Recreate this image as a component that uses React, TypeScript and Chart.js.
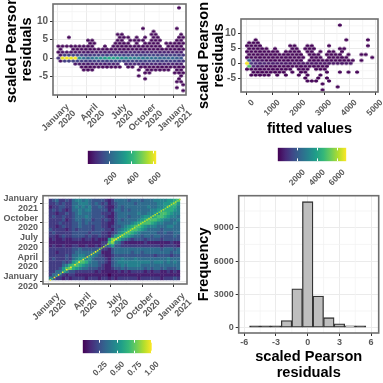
import React, { useEffect, useRef } from "react";
import { Chart, registerables } from "chart.js";
Chart.register(...registerables);

const FONT = "'Liberation Sans', Arial, sans-serif";
const TICK = "#5a5a5a";
const VIRIDIS = ["#440154","#482878","#3E4A89","#31688E","#26828E","#1F9E89","#35B779","#6DCD59","#B4DE2C","#FDE725"];

// ---------- shared date axis
const dateTicks = [0, 91, 182, 274, 366];
const dateLabels = [["January","2020"],["April","2020"],["July","2020"],["October","2020"],["January","2021"]];
const dateMinor = [45.5, 136.5, 228, 320];

// ---------- panel 1: hexbin over time (columns of bins, rows indexed by k)
const h1Tops =    [4,4,4,4,4,4,4,6,6,4,4,4,4,5,8,8,7,6,7,6,7,5,9,8,6,5,5,5,7,8];
const h1Bottoms = [-1,-1,-1,-1,-2,-3,-4,-4,-4,-3,-3,-3,-3,-3,-3,-2,-3,-3,-3,-6,-7,-5,-4,-4,-4,-4,-4,-5,-8,-8];
const h1Extra = [[2,7],[20,10],[28,10],[28,17],[28,-10],[29,-11],[29,-9]];
const h1Holes = [[1,3],[2,3],[9,4],[10,4],[12,4],[16,6],[17,5],[19,5],[19,-5],[20,-6],[20,-4],[27,-4],[28,-6],[29,-7],[18,-3],[15,-2],[24,5],[25,4]];
const h1Center = [90,600,610,600,610,300,220,200,230,260,300,340,360,350,330,300,280,270,260,250,240,230,220,210,200,200,190,200,180,160];
const h1Near = [30,110,120,120,120,110,100,100,110,110,120,120,130,130,130,120,120,120,120,120,120,120,120,110,110,110,110,110,100,90];
const h1Second = [8,25,30,30,35,35,35,40,40,40,45,45,50,50,55,55,55,60,60,60,60,60,60,55,55,55,50,50,50,45];

// ---------- panel 2: hexbin against fitted values, [row, columns]
const h2Rows: [number, number[]][] = [
  [13,[21]],
  [8,[2,23,28]],
  [7,[0,1,2]],
  [6,[0,1,2,3,10,11,14,15,19,28]],
  [5,[0,1,2,3,4,6,10,11,13,14,15,21,22]],
  [4,[0,1,2,3,4,5,6,7,9,10,11,12,14,15,17,19,20,22]],
  [3,[0,1,2,3,4,5,6,7,8,9,10,11,12,14,15,16,18,19,20,21,23,26,27]],
  [2,[0,1,2,3,4,5,6,7,8,9,10,11,12,13,15,16,17,19,20,21,22,23,29]],
  [1,[0,1,2,3,4,5,6,7,8,9,10,11,12,14,15,16,17,18,19,20,21,22,23,24,26]],
  [0,[0,1,2,3,4,5,6,7,8,9,10,11,12,13,14,15,16,17,18,19,20,21,22,23,24]],
  [-1,[0,1,2,3,4,5,6,7,8,9,10,11,12,13,14,15,16,17,18]],
  [-2,[0,1,2,3,4,5,6,7,8,9,10,12,13,14,16,17,18]],
  [-3,[1,2,3,4,5,6,7,8,10,12,13,18,21,23,25]],
  [-4,[1,2,3,4,5,7,9,12,14,17]],
  [-5,[13,16,18]],
  [-6,[14,15,16,19]],
  [-7,[17]],
  [-8,[21]],
  [-9,[17]],
];
const h2Special: [number, number, number][] = [[0,0,6800],[0,-1,5000],[0,1,2000],[1,0,1000],[2,0,700],[3,0,600],[4,0,600],[5,0,500],[6,0,500],[7,0,450],[8,0,400],[9,0,400],[1,1,500],[1,-1,600],[2,1,350],[2,-1,350],[3,1,300],[3,-1,300]];

// ---------- panel 3: correlation heat map, tenths, top row first
const heatRows = [
"2342232 455454 33332 12 44443444344 455556678",
"2232322 445554 34323 12 34444434444 445566786",
"1223322 454545 33432 11 34344444445 445567775",
"2323212 445455 33333 12 44343444444 556677765",
"2212232 345444 33322 21 34444445445 566887655",
"2322322 344454 33332 11 34443444566 678876554",
"2222312 344344 23323 21 34344445678 887655445",
"2223222 334343 33322 11 34444567888 765544454",
"2212322 334333 23322 12 33456788765 554445544",
"3222212 323333 23332 21 34567887654 444344444",
"2322222 333332 33322 12 35678765444 443343344",
"2212322 333323 22322 13 67876544344 344333343",
"1211211 222122 12111 69 87543233323 333233333",
"1111111 111111 11122 89 54211111121 111111211",
"1211211 221121 12123 46 33222222222 222122221",
"2222222 334333 33422 13 44444444444 444344434",
"2212222 344444 45411 13 44444344344 444444344",
"2222232 445544 54321 12 33333333333 323333233",
"2322232 456656 43332 13 44544454444 444445444",
"2222323 678875 44332 13 45555555555 455545454",
"2222457 887654 44321 13 44545555444 444444444",
"2223689 765443 33221 12 33434444434 344343334",
"2244653 322222 21211 11 12121222212 122112121",
"2443212 211111 11111 01 11111111111 111111111",
"5322121 222212 22122 12 12222221222 222122232",
];
const diagValues = [10,7,10,7,10,7,10,7,10,8,10,7,10,8,10,8,10,8,10,8,10,9,10,9,9,8,9,8,9,7,9,10,10,10,10,9,9,9,9,9,9,9,8,9,9,9,9,9,9,9,9,9,9,8,9,9,8,9,9,9,9,9,8,9];

// ---------- panel 4: histogram
const histBins = [-5,-4,-3,-2,-1,0,1,2,3,4,5];
const histCounts = [30,40,80,650,3500,11340,2850,900,350,150,60];

// ---------- colour bars
const bar1Ticks = [200,400,600];
const bar2Ticks = [2000,4000,6000];
const bar3Ticks = [0.25,0.5,0.75,1];
const bar3Labels = ["0.25","0.50","0.75","1.00"];

function viridis(t: number) {
  const u = Math.max(0, Math.min(1, t)) * (VIRIDIS.length - 1);
  const i = Math.min(VIRIDIS.length - 2, Math.floor(u));
  const f = u - i;
  const p = (s: string, k: number) => parseInt(s.slice(1 + 2 * k, 3 + 2 * k), 16);
  const m = [0, 1, 2].map((k) => Math.round(p(VIRIDIS[i], k) * (1 - f) + p(VIRIDIS[i + 1], k) * f));
  return `rgb(${m[0]},${m[1]},${m[2]})`;
}

const sprites = new Map<string, HTMLCanvasElement>();
function hexSprite(color: string, hw: number, hh: number) {
  const key = color + hw + hh;
  if (sprites.has(key)) return sprites.get(key)!;
  const c = document.createElement("canvas");
  c.width = Math.ceil(hw * 2) + 2;
  c.height = Math.ceil(hh * 2) + 2;
  const g = c.getContext("2d")!;
  const x = c.width / 2, y = c.height / 2;
  g.fillStyle = color;
  g.beginPath();
  g.moveTo(x, y - hh); g.lineTo(x + hw, y - hh / 2); g.lineTo(x + hw, y + hh / 2);
  g.lineTo(x, y + hh); g.lineTo(x - hw, y + hh / 2); g.lineTo(x - hw, y - hh / 2);
  g.closePath(); g.fill();
  sprites.set(key, c);
  return c;
}

type Area = { left: number; top: number; right: number; bottom: number };
const S = 383;

const framePlugin = (minorX: number[], minorY: number[]) => ({
  id: "frame",
  beforeDatasetsDraw(ch: any) {
    const a = ch.chartArea, g = ch.ctx;
    g.save(); g.strokeStyle = "#F3F3F3"; g.lineWidth = 0.8; g.beginPath();
    minorX.forEach((v) => { const p = ch.scales.x.getPixelForValue(v); g.moveTo(p, a.top); g.lineTo(p, a.bottom); });
    minorY.forEach((v) => { const p = ch.scales.y.getPixelForValue(v); g.moveTo(a.left, p); g.lineTo(a.right, p); });
    g.stroke(); g.restore();
  },
  afterDraw(ch: any) {
    const a = ch.chartArea, g = ch.ctx;
    g.save(); g.strokeStyle = "#6e6e6e"; g.lineWidth = 1.6;
    g.strokeRect(a.left, a.top, a.right - a.left, a.bottom - a.top); g.restore();
  },
});

function fixedAxis(size: number, horizontal: boolean) {
  return (s: any) => {
    if (horizontal) s.height = size; else s.width = size;
    s.paddingLeft = 0; s.paddingRight = 0; s.paddingTop = 0; s.paddingBottom = 0;
  };
}

function baseScale(opts: any) {
  const { min, max, ticks, labels, horizontal, size, tickSize, rotate, title, titlePad, pad, labelOffset } = opts;
  return {
    type: "linear", min, max, offset: false,
    afterBuildTicks: (s: any) => { s.ticks = ticks.map((value: number) => ({ value })); },
    afterFit: fixedAxis(size, horizontal),
    grid: { color: "#EBEBEB", lineWidth: 1, tickColor: "#333333", tickLength: 3, offset: false },
    border: { display: false },
    ticks: {
      autoSkip: false, color: TICK, padding: pad ?? 2, labelOffset: labelOffset ?? 0,
      font: { family: FONT, size: tickSize ?? 9, weight: "bold", lineHeight: 1.05 },
      minRotation: rotate ? 45 : 0, maxRotation: rotate ? 45 : 0,
      callback: (_: any, i: number) => (labels ? labels[i] : String(ticks[i])),
    },
    title: title
      ? { display: true, text: title, color: "#000", padding: { top: titlePad ?? 4, bottom: titlePad ?? 0 },
          font: { family: FONT, size: 14.6, weight: "bold", lineHeight: 1.03 } }
      : { display: false },
  };
}

function panelOptions(area: Area, boxLeft: number, boxBottom: number, x: any, y: any) {
  return {
    responsive: false, animation: false as const, events: [] as any[], devicePixelRatio: 1,
    layout: { padding: { left: boxLeft, top: area.top, right: S - area.right, bottom: S - boxBottom } },
    plugins: { legend: { display: false }, tooltip: { enabled: false }, title: { display: false } },
    scales: {
      x: baseScale({ ...x, horizontal: true, size: boxBottom - area.bottom }),
      y: baseScale({ ...y, horizontal: false, size: area.left - boxLeft }),
    },
  };
}

function colorBar(canvas: HTMLCanvasElement, area: Area, min: number, max: number, ticks: number[], labels: string[]) {
  return new Chart(canvas, {
    type: "bar",
    data: {
      labels: [""],
      datasets: [{
        data: [[min, max]],
        barPercentage: 1, categoryPercentage: 1, borderWidth: 0,
        backgroundColor: (c: any) => {
          const a = c.chart.chartArea;
          if (!a) return VIRIDIS[0];
          const g = c.chart.ctx.createLinearGradient(a.left, 0, a.right, 0);
          VIRIDIS.forEach((col, i) => g.addColorStop(i / (VIRIDIS.length - 1), col));
          return g;
        },
      }],
    },
    options: {
      indexAxis: "y", responsive: false, animation: false, events: [], devicePixelRatio: 1,
      layout: { padding: { left: area.left, top: area.top, right: S - area.right, bottom: 0 } },
      plugins: { legend: { display: false }, tooltip: { enabled: false } },
      scales: {
        y: { display: false },
        x: {
          type: "linear", min, max,
          afterBuildTicks: (s: any) => { s.ticks = ticks.map((value) => ({ value })); },
          afterFit: fixedAxis(S - area.bottom, true),
          grid: { z: 1, color: "#ffffff", lineWidth: 1, drawTicks: false },
          border: { display: false, dash: [2.7, 8, 2.7, 0] },
          ticks: {
            autoSkip: false, color: TICK, padding: 6, labelOffset: 6,
            font: { family: FONT, size: 8.5, weight: "bold" },
            minRotation: 45, maxRotation: 45,
            callback: (_: any, i: number) => labels[i],
          },
        },
      },
    } as any,
  } as any);
}

function hexDataset(points: any[], hw: number, hh: number) {
  return {
    data: points, showLine: false, pointRadius: 2, pointBorderWidth: 0,
    pointStyle: (c: any) => hexSprite(c.raw ? c.raw.c : VIRIDIS[0], hw, hh),
  };
}

export default function App() {
  const refs = [useRef<HTMLCanvasElement>(null), useRef<HTMLCanvasElement>(null), useRef<HTMLCanvasElement>(null), useRef<HTMLCanvasElement>(null),
    useRef<HTMLCanvasElement>(null), useRef<HTMLCanvasElement>(null), useRef<HTMLCanvasElement>(null)];

  useEffect(() => {
    const charts: Chart[] = [];

    // panel 1
    const h1Points: any[] = [];
    h1Tops.forEach((top, c) => {
      for (let k = h1Bottoms[c]; k <= top; k++) {
        if (h1Holes.some((h) => h[0] === c && h[1] === k)) continue;
        const n = k === 0 ? h1Center[c] : Math.abs(k) === 1 ? h1Near[c] : Math.abs(k) === 2 ? h1Second[c] : 10;
        h1Points.push({ x: 2 + c * 13.35 + (k % 2 ? 6.67 : 0), y: k * 0.8, c: viridis(n / 620) });
      }
    });
    h1Extra.forEach(([c, k]) => h1Points.push({ x: 2 + c * 13.35 + (k % 2 ? 6.67 : 0), y: k * 0.8, c: viridis(0.01) }));
    charts.push(new Chart(refs[0].current!, {
      type: "scatter",
      data: { datasets: [hexDataset(h1Points, 1.85, 1.75) as any] },
      options: panelOptions({ left: 53, top: 4, right: 186, bottom: 95 }, 0, 180,
        { min: -14.8, max: 404.7, ticks: dateTicks, labels: dateLabels, rotate: true, tickSize: 9, labelOffset: 10, pad: 4 },
        { min: -10, max: 14.6, ticks: [-5, 0, 5, 10], tickSize: 10, title: ["scaled Pearson", "residuals"] }) as any,
      plugins: [framePlugin(dateMinor, [-7.5, -2.5, 2.5, 7.5, 12.5])],
    }));

    // panel 2
    const h2Points: any[] = [];
    h2Rows.forEach(([k, cols]) => cols.forEach((c) => {
      const sp = h2Special.find((s) => s[0] === c && s[1] === k);
      const n = sp ? sp[2] : k === 0 ? 350 : 40;
      h2Points.push({ x: c * 168 + (k % 2 ? 84 : 0), y: k * 0.98, c: viridis(n / 6860) });
    }));
    charts.push(new Chart(refs[1].current!, {
      type: "scatter",
      data: { datasets: [hexDataset(h2Points, 1.95, 1.75) as any] },
      options: panelOptions({ left: 241, top: 19, right: 378, bottom: 92 }, 192, 136.5,
        { min: -233, max: 5097, ticks: [0, 1000, 2000, 3000, 4000, 5000], rotate: true, tickSize: 8.5, title: "fitted values", titlePad: 0, labelOffset: 6, pad: 3 },
        { min: -9.57, max: 14.77, ticks: [-5, 0, 5, 10], tickSize: 10, title: ["scaled Pearson", "residuals"] }) as any,
      plugins: [framePlugin([500, 1500, 2500, 3500, 4500], [-7.5, -2.5, 2.5, 7.5, 12.5])],
    }));

    // panel 3
    const heatPoints: any[] = [];
    heatRows.forEach((row, r) => {
      row.replace(/ /g, "").split("").forEach((d, c) => {
        heatPoints.push({ x: 2 + 9.56 * (c + 0.5), y: 386 - 15.2 * (r + 0.5), c: viridis((Number(d) / 10) * 0.88) });
      });
    });
    const diagPoints = diagValues.map((v, i) => ({ x: 6 + i * 6, y: 6 + i * 6, c: viridis(v / 10) }));
    charts.push(new Chart(refs[2].current!, {
      type: "scatter",
      data: { datasets: [
        { data: diagPoints, pointStyle: "rect", pointRadius: 1.1, pointBorderWidth: 0, pointBackgroundColor: (c: any) => c.raw?.c },
        { data: heatPoints, pointStyle: "rect", pointRadius: 2.55, pointBorderWidth: 0, pointBackgroundColor: (c: any) => c.raw?.c },
      ] as any },
      options: panelOptions({ left: 43, top: 195.7, right: 187, bottom: 284 }, 0, 330,
        { min: -15.5, max: 405, ticks: dateTicks, labels: dateLabels, rotate: true, tickSize: 9, labelOffset: 10, pad: 4 },
        { min: -12.7, max: 401.7, ticks: dateTicks, labels: dateLabels, tickSize: 9 }) as any,
      plugins: [framePlugin(dateMinor, dateMinor)],
    }));

    // panel 4
    charts.push(new Chart(refs[3].current!, {
      type: "bar",
      data: { datasets: [{
        data: histBins.map((x, i) => ({ x, y: histCounts[i] })),
        backgroundColor: (c: any) => (c.raw && c.raw.y < 120 ? "#333333" : "#BEBEBE"),
        borderColor: "#333333", borderWidth: 1.3, borderSkipped: false,
        barPercentage: 1, categoryPercentage: 1, minBarLength: 1.8,
      }] as any },
      options: panelOptions({ left: 238.7, top: 195.7, right: 378.7, bottom: 333 }, 192, 380,
        { min: -6.53, max: 6.72, ticks: [-6, -3, 0, 3, 6], tickSize: 9, title: ["scaled Pearson", "residuals"], titlePad: 0 },
        { min: -477, max: 11880, ticks: [0, 3000, 6000, 9000], tickSize: 9, title: "Frequency" }) as any,
      plugins: [framePlugin([-4.5, -1.5, 1.5, 4.5], [1500, 4500, 7500, 10500])],
    }));

    // colour bars
    charts.push(colorBar(refs[4].current!, { left: 87.7, top: 150.7, right: 156.3, bottom: 164 }, 1, 621, bar1Ticks, bar1Ticks.map(String)));
    charts.push(colorBar(refs[5].current!, { left: 277.7, top: 147.7, right: 346.3, bottom: 161.3 }, -40, 6860, bar2Ticks, bar2Ticks.map(String)));
    charts.push(colorBar(refs[6].current!, { left: 82.7, top: 340, right: 151.7, bottom: 353.3 }, 0, 1, bar3Ticks, bar3Labels));

    return () => charts.forEach((c) => c.destroy());
  }, []);

  return (
    <div style={{ position: "fixed", left: 0, top: 0, width: S, height: S, background: "#fff", overflow: "hidden" }}>
      {refs.map((r, i) => (
        <canvas key={i} ref={r} width={S} height={S}
          style={{ position: "absolute", left: 0, top: 0, width: S, height: S, filter: i === 2 ? "blur(0.6px)" : "blur(0.4px)" }} />
      ))}
    </div>
  );
}
